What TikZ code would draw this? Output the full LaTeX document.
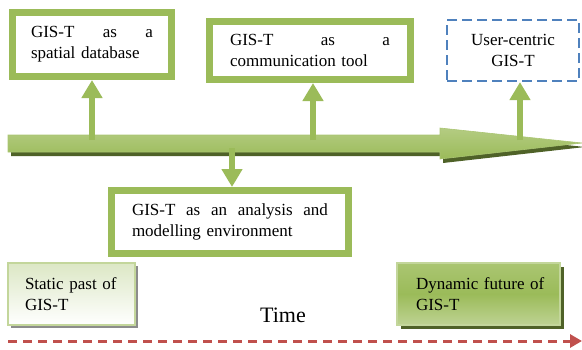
\documentclass[tikz,border=0pt]{standalone}
\usepackage{fontspec}
\setmainfont{Liberation Serif}
\usetikzlibrary{arrows.meta}
\definecolor{ogreen}{HTML}{9BBB59}
\definecolor{odark}{HTML}{4F6228}
\definecolor{olight}{HTML}{C3D69B}
\definecolor{oblue}{HTML}{4F81BD}
\definecolor{ored}{HTML}{C0504D}
\begin{document}
\begin{tikzpicture}[x=1pt,y=-1pt,
  txt/.style={font=\fontsize{17}{21}\selectfont},
  gbox/.style={txt,draw=ogreen,line width=7pt,fill=white,inner sep=0pt,align=left},
  bbox/.style={txt,draw=oblue,line width=2.2pt,dash pattern=on 10pt off 5pt,fill=white,inner sep=0pt,align=center},
  conn/.style={draw=ogreen,line width=6pt,-{Triangle[width=20pt,length=18pt]}},
  pastbox/.style={txt,draw=olight,line width=2pt,inner sep=0pt,align=left,
    top color=ogreen!35!white,bottom color=white},
  futbox/.style={txt,draw=olight,line width=2pt,inner sep=0pt,align=left,
    top color=ogreen!85!white,bottom color=ogreen!65!white,middle color=ogreen},
  timeline/.style={draw=ored,line width=3pt,dash pattern=on 9pt off 6pt,-{Triangle[width=13pt,length=12pt]}}
]
\useasboundingbox (0,0) rectangle (582,349);

% main bar with shadow
\fill[odark] (11,139)--(443,139)--(443,132)--(585,147)--(443,163)--(443,156)--(11,156)--cycle;
\shade[top color=ogreen!75!white,bottom color=ogreen,draw=ogreen!85!white,line width=0.6pt]
  (8,135)--(440,135)--(440,128)--(582,143)--(440,159)--(440,152)--(8,152)--cycle;
\coordinate (barA) at (92,140);
\coordinate (barB) at (313,140);
\coordinate (barC) at (520,140);
\coordinate (barD) at (232,148);

% boxes
\node[gbox,minimum width=159pt,minimum height=64pt,text width=122pt] (box1) at (92,44.5)
  {GIS-T\hfill as\hfill a\\spatial database};
\node[gbox,minimum width=201pt,minimum height=58pt,text width=160pt] (box2) at (310,50.5)
  {GIS-T\hfill as\hfill a\\communication tool};
\node[bbox,minimum width=132pt,minimum height=61pt] (box3) at (513,50.5)
  {User-centric\\GIS-T};
\node[gbox,minimum width=237pt,minimum height=63pt,text width=196pt] (box4) at (230,222)
  {GIS-T\hfill as\hfill an\hfill analysis\hfill and\\modelling environment};

% connectors
\draw[conn] (barA) -- (barA |- box1.south);
\draw[conn] (barB) -- (barB |- box2.south);
\draw[conn] (barC) -- (barC |- box3.south);
\draw[conn] (barD) -- (barD |- box4.north);

% past / future (shadows first)
\fill[black!45] (11,266) rectangle (138,328);
\fill[odark] (401,267) rectangle (564,329);
\node[pastbox,minimum width=127pt,minimum height=62pt,text width=93pt] (past) at (71.5,294)
  {Static past of\\GIS-T};
\node[futbox,minimum width=163pt,minimum height=62pt,text width=125pt] (future) at (478.5,294)
  {\makebox[0pt][l]{Dynamic future of}\\GIS-T};

\node[font=\fontsize{22}{26}\selectfont,anchor=base,inner sep=0pt] (time) at (283,322) {Time};

\coordinate (tstart) at (8,341);
\coordinate (tend) at (582,341);
\draw[timeline] (tstart) -- (tend);
\end{tikzpicture}
\end{document}
